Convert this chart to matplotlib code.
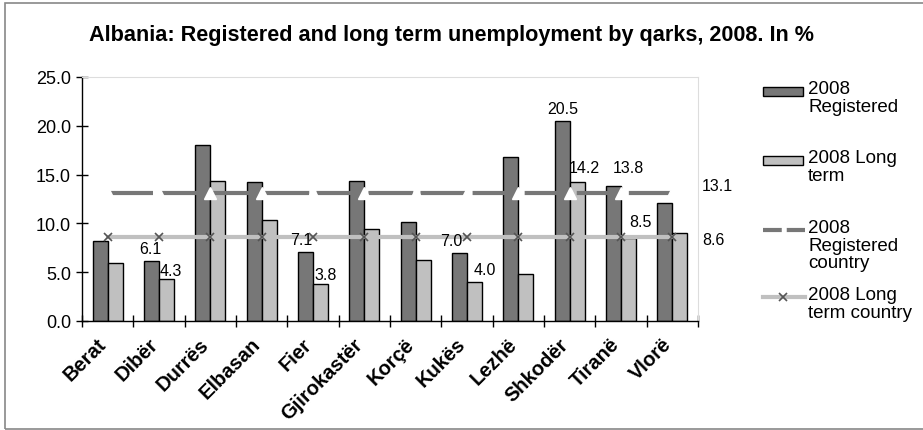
import numpy as np
import matplotlib
matplotlib.use("Agg")
import matplotlib.pyplot as plt
import matplotlib.transforms as mtransforms
from matplotlib.patches import Rectangle
from matplotlib.lines import Line2D

plt.rcParams['font.family'] = ['Liberation Sans', 'DejaVu Sans']

## Data
qarks = ['Berat', 'Dibër', 'Durrës', 'Elbasan', 'Fier', 'Gjirokastër', 'Korçë',
         'Kukës', 'Lezhë', 'Shkodër', 'Tiranë', 'Vlorë']
registered = [8.2, 6.1, 18.0, 14.2, 7.1, 14.3, 10.1, 7.0, 16.8, 20.5, 13.8, 12.1]
long_term = [5.9, 4.3, 14.3, 10.3, 3.8, 9.4, 6.3, 4.0, 4.8, 14.2, 8.5, 9.0]
registered_country = 13.1
long_term_country = 8.6

## Which bars carry a value label, and where the label sits (pixel offset from bar top)
reg_label_offsets = {'Dibër': (-1, 5), 'Fier': (-4, 5), 'Kukës': (-8, 5),
                     'Shkodër': (1, 5), 'Tiranë': (15, 11)}
lt_label_offsets = {'Dibër': (4, 1), 'Fier': (5, 2), 'Kukës': (10, 5),
                    'Shkodër': (7, 7), 'Tiranë': (12, 9)}

dark = '#777777'
light = '#c0c0c0'
W, H = 923, 431

fig = plt.figure(figsize=(W / 100, H / 100), dpi=100)
fig.patches.append(Rectangle((5 / W, 1 / H), 925 / W, 426 / H, transform=fig.transFigure,
                             fill=False, edgecolor='#888888', linewidth=1.2))
ax = fig.add_axes([82 / W, 1 - 322 / H, 616 / W, 244 / H])

x = np.arange(len(qarks))
w = 0.29
ax.bar(x - w / 2, registered, w, color=dark, edgecolor='black', linewidth=1.0, zorder=2)
ax.bar(x + w / 2, long_term, w, color=light, edgecolor='black', linewidth=1.0, zorder=2)

ax.plot(x, [registered_country] * len(x), color=dark, linewidth=3, dashes=(10.8, 1.7),
        marker='^', markersize=8, markerfacecolor='white', markeredgecolor='white', zorder=3)
ax.plot(x, [long_term_country] * len(x), color=light, linewidth=3,
        marker='x', markersize=6, markeredgecolor='#555555', markeredgewidth=1.2, zorder=3)

for i, q in enumerate(qarks):
    if q in reg_label_offsets:
        ax.annotate(f'{registered[i]:.1f}', (i - w / 2, registered[i]), xytext=reg_label_offsets[q],
                    textcoords='offset pixels', ha='center', va='bottom', fontsize=11.5, zorder=4)
    if q in lt_label_offsets:
        ax.annotate(f'{long_term[i]:.1f}', (i + w / 2, long_term[i]), xytext=lt_label_offsets[q],
                    textcoords='offset pixels', ha='center', va='bottom', fontsize=11.5, zorder=4)

ax.annotate(f'{registered_country:.1f}', (len(x) - 0.5, registered_country), xytext=(4, 8),
            textcoords='offset pixels', ha='left', va='center', fontsize=11.5, annotation_clip=False)
ax.annotate(f'{long_term_country:.1f}', (len(x) - 0.5, long_term_country), xytext=(4, -2),
            textcoords='offset pixels', ha='left', va='center', fontsize=11.5, annotation_clip=False)

ax.set_xlim(-0.5, len(x) - 0.5)
ax.set_ylim(0, 25)
yt = np.arange(0, 25.1, 5)
ax.set_yticks(yt)
ax.set_yticklabels([f'{v:.1f}' for v in yt], fontsize=13)
ax.tick_params(axis='y', direction='inout', length=8, width=1, pad=4)
ax.set_xticks(x)
ax.set_xticklabels(qarks, rotation=45, ha='right', rotation_mode='anchor', fontsize=14.5, fontweight='bold')
ax.tick_params(axis='x', length=0, pad=8)
shift = mtransforms.ScaledTranslation(-11 / 100, -2 / 100, fig.dpi_scale_trans)
for lab in ax.get_xticklabels():
    lab.set_transform(lab.get_transform() + shift)
ax.set_xticks(np.arange(-0.5, len(x), 1), minor=True)
ax.tick_params(axis='x', which='minor', direction='inout', length=8, width=1)
for s in ['top', 'right']:
    ax.spines[s].set_color('#dddddd')
    ax.spines[s].set_linewidth(0.8)
for s in ['left', 'bottom']:
    ax.spines[s].set_color('black')
    ax.spines[s].set_linewidth(1.0)

fig.text(451.5 / W, 1 - 35 / H, 'Albania: Registered and long term unemployment by qarks, 2008. In %',
         ha='center', va='center', fontsize=15.6, fontweight='bold')

## Legend drawn by hand so the key sits beside the first text line
legend_items = [
    ('2008\nRegistered', 92, Rectangle((0, 0), 1, 1, facecolor=dark, edgecolor='black')),
    ('2008 Long\nterm', 161, Rectangle((0, 0), 1, 1, facecolor=light, edgecolor='black')),
    ('2008\nRegistered\ncountry', 231, Line2D([], [], color=dark, linewidth=3, dashes=(4.5, 1.2))),
    ('2008 Long\nterm country', 298, Line2D([], [], color=light, linewidth=3, marker='x', markersize=6,
                                            markeredgecolor='#555555', markeredgewidth=1.2)),
]
for text, ypix, handle in legend_items:
    yf = 1 - ypix / H
    if isinstance(handle, Rectangle):
        fig.patches.append(Rectangle((763 / W, yf - 4.5 / H), 40 / W, 9 / H, transform=fig.transFigure,
                                     facecolor=handle.get_facecolor(), edgecolor='black', linewidth=1.0))
    else:
        handle.set_data([763 / W, 783 / W, 805 / W], [yf, yf, yf])
        handle.set_transform(fig.transFigure)
        if handle.get_marker() not in (None, 'None', ''):
            handle.set_markevery([1])
        fig.lines.append(handle)
    fig.text(808 / W, yf + 11 / H, text, ha='left', va='top', fontsize=13.5, linespacing=1.05)

fig.savefig('out.png', dpi=100)
